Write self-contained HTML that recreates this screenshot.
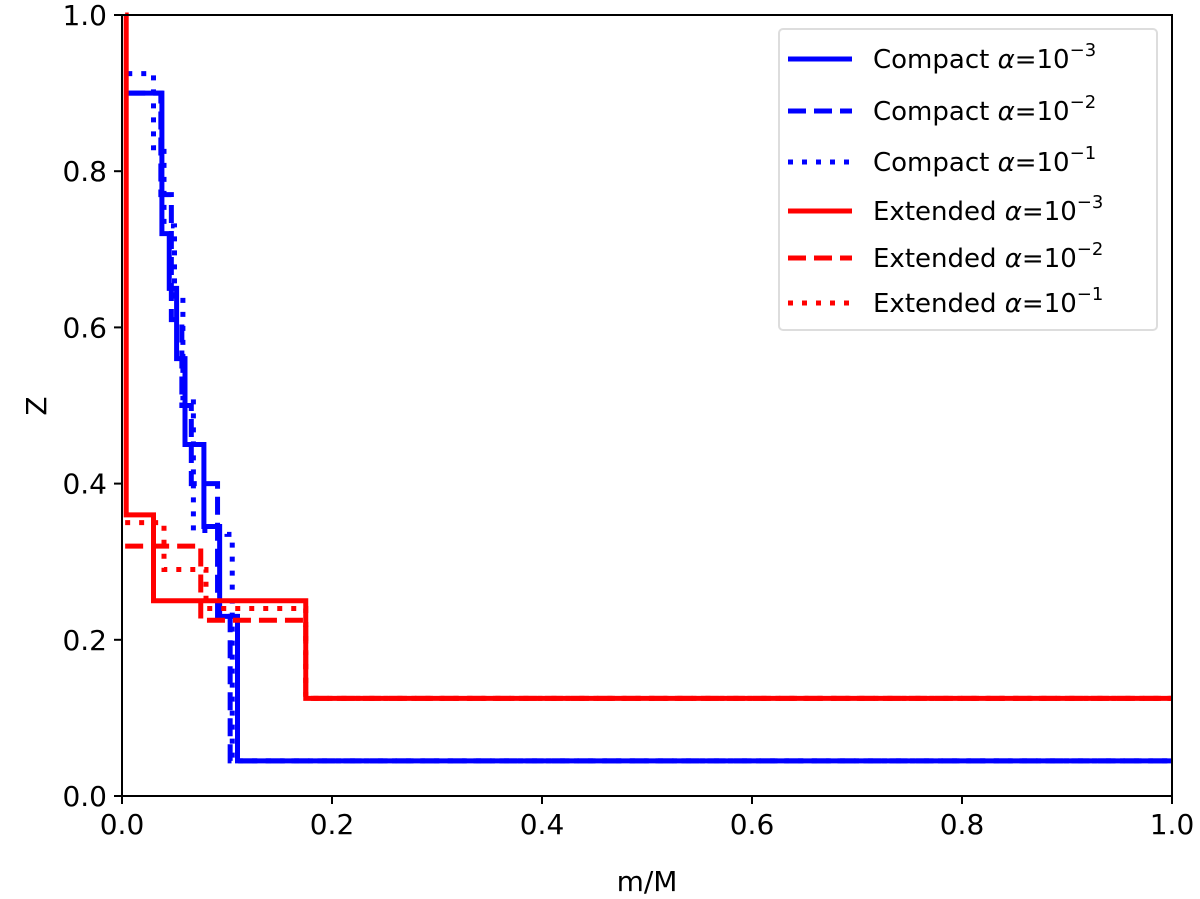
<!DOCTYPE html>
<html><head><meta charset="utf-8"><style>
body{margin:0;background:#fff}
svg text{font-family:"DejaVu Sans","Liberation Sans",sans-serif;fill:#000}
</style></head><body>
<svg id="chart" width="1200" height="894">
<g id="marks"></g>
<rect x="122" y="15" width="1050" height="781" fill="none" stroke="#000" stroke-width="2"/>
<g id="axes"></g>
<text x="647" y="891" font-size="28" text-anchor="middle">m/M</text>
<text x="0" y="0" font-size="28" text-anchor="middle" transform="translate(46,406) rotate(-90)">Z</text>
<g id="legend"></g>
</svg>
<script>
const xTicks=[0,0.2,0.4,0.6,0.8,1.0];
const yTicks=[0,0.2,0.4,0.6,0.8,1.0];
const cx1=[0.005,0.038,0.045,0.052,0.06,0.078,0.093,0.11,1.0];
const cz1=[0.9,0.72,0.65,0.56,0.45,0.345,0.23,0.045];
const cx2=[0.005,0.037,0.047,0.057,0.066,0.091,0.103,1.0];
const cz2=[0.9,0.77,0.61,0.5,0.4,0.23,0.045];
const cx3=[0.005,0.03,0.04,0.05,0.058,0.068,0.1,0.105,1.0];
const cz3=[0.925,0.83,0.73,0.64,0.51,0.34,0.335,0.045];
const ex1=[0.003,0.004,0.03,0.175,1.0];
const ez1=[1.0,0.36,0.25,0.125];
const ex2=[0.003,0.075,0.175,1.0];
const ez2=[0.32,0.225,0.125];
const ex3=[0.003,0.04,0.08,0.175,1.0];
const ez3=[0.35,0.29,0.24,0.125];
const seriesLabels=["Compact","Compact","Compact","Extended","Extended","Extended"];
const seriesExp=["−3","−2","−1","−3","−2","−1"];
const X=v=>122+v*1050, Y=v=>796-v*781;
const NS="http://www.w3.org/2000/svg";
function mk(t,a,p){const e=document.createElementNS(NS,t);for(const k in a)e.setAttribute(k,a[k]);p.appendChild(e);return e;}
const axes=document.getElementById('axes'), marks=document.getElementById('marks');
xTicks.forEach(v=>{mk('line',{x1:X(v),x2:X(v),y1:796,y2:804,stroke:'#000','stroke-width':2},axes);
 const t=mk('text',{x:X(v),y:834,'font-size':28,'text-anchor':'middle'},axes);t.textContent=v.toFixed(1);
 
 });
yTicks.forEach(v=>{mk('line',{x1:114,x2:122,y1:Y(v),y2:Y(v),stroke:'#000','stroke-width':2},axes);
 const t=mk('text',{x:107,y:Y(v)+10,'font-size':28,'text-anchor':'end'},axes);t.textContent=v.toFixed(1);
 
 });
const styles=[['blue',''],['blue','18,8'],['blue','5,9'],['red',''],['red','18,8'],['red','5,9']];
const data=[[cx1,cz1],[cx2,cz2],[cx3,cz3],[ex1,ez1],[ex2,ez2],[ex3,ez3]];
const names=['compact-a3','compact-a2','compact-a1','extended-a3','extended-a2','extended-a1'];
data.forEach((d,i)=>{const [xs,zs]=d;let p='M'+X(xs[0])+','+Y(zs[0]);
 for(let k=0;k<zs.length;k++){p+=' H'+X(xs[k+1]);if(k+1<zs.length)p+=' V'+Y(zs[k+1]);}
 const e=mk('path',{d:p,fill:'none',stroke:styles[i][0],'stroke-width':5,'stroke-dasharray':styles[i][1]},marks);
 
 });
const lg=document.getElementById('legend');
mk('rect',{x:779,y:29,width:378,height:301,rx:4,fill:'#fff',stroke:'#ddd','stroke-width':2},lg);
const ly=[59,111,162,211,258,303];
seriesLabels.forEach((s,i)=>{const y=ly[i];
 const l=mk('line',{x1:788,x2:852,y1:y,y2:y,stroke:styles[i][0],'stroke-width':5,'stroke-dasharray':styles[i][1]},lg);
 
 
 const t=mk('text',{x:873,y:y+9,'font-size':26},lg);
 t.innerHTML=s+' <tspan font-style="italic">α</tspan>=10<tspan font-size="18" dy="-12">'+seriesExp[i]+'</tspan>';
 
 });
</script>
</body></html>
